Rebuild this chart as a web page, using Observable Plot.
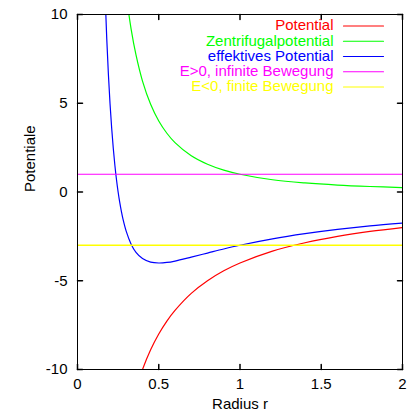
<!DOCTYPE html>
<html>
<head>
<meta charset="utf-8">
<script src="https://cdn.jsdelivr.net/npm/d3@7"></script>
<script src="https://cdn.jsdelivr.net/npm/@observablehq/plot@0.6"></script>
<style>
  html, body { margin: 0; padding: 0; background: white; }
</style>
</head>
<body>
<div id="chart"></div>
<script>
// Radius r (sampled along the curves)
const radius = [0.15, 0.16, 0.17, 0.18, 0.19, 0.2, 0.21, 0.22, 0.23, 0.24, 0.25, 0.26, 0.27, 0.28, 0.3, 0.33, 0.36, 0.4, 0.45, 0.5, 0.55, 0.6, 0.7, 0.8, 0.9, 1.0, 1.2, 1.4, 1.6, 1.8, 2.0];
// Potential (red)
const potential = [-26.67, -25.0, -23.53, -22.22, -21.05, -20.0, -19.05, -18.18, -17.39, -16.67, -16.0, -15.38, -14.81, -14.29, -13.33, -12.12, -11.11, -10.0, -8.89, -8.0, -7.27, -6.67, -5.71, -5.0, -4.44, -4.0, -3.33, -2.86, -2.5, -2.22, -2.0];
// Zentrifugalpotential (green)
const zentrifugal = [44.44, 39.06, 34.6, 30.86, 27.7, 25.0, 22.68, 20.66, 18.9, 17.36, 16.0, 14.79, 13.72, 12.76, 11.11, 9.18, 7.72, 6.25, 4.94, 4.0, 3.31, 2.78, 2.04, 1.56, 1.23, 1.0, 0.69, 0.51, 0.39, 0.31, 0.25];
// effektives Potential (blue)
const effektiv = [17.78, 14.06, 11.07, 8.64, 6.65, 5.0, 3.63, 2.48, 1.51, 0.69, 0.0, -0.59, -1.09, -1.53, -2.22, -2.94, -3.4, -3.75, -3.95, -4.0, -3.97, -3.89, -3.67, -3.44, -3.21, -3.0, -2.64, -2.35, -2.11, -1.91, -1.75];
// Energy levels
const energyPositive = [1];
const energyNegative = [-3];

// Legend
const legendLabels = ["Potential", "Zentrifugalpotential", "effektives Potential", "E>0, infinite Bewegung", "E<0, finite Bewegung"];
const legendColors = ["red", "#00ff00", "#0000ff", "#ff00ff", "#ffff00"];

// Ticks
const xTicks = [0, 0.5, 1, 1.5, 2];
const yTicks = [-10, -5, 0, 5, 10];

const table = radius.map((r, i) => ({r, potential: potential[i], zentrifugal: zentrifugal[i], effektiv: effektiv[i]}));

const lineShape = {draw(context, l) { context.moveTo(0, 0); context.lineTo(0, -l); }};
const fmt = d => String(d);
const FS = 15;
const LW = 1.2;

const legendMarks = legendLabels.flatMap((label, i) => [
  Plot.text([label], {frameAnchor: "top-right", dx: -69, dy: 11 + i * 15.25, text: d => d, fill: legendColors[i], textAnchor: "end", lineAnchor: "middle", fontSize: FS}),
  Plot.vector([label], {frameAnchor: "top-right", dx: -59, dy: 11.5 + i * 15.25, length: 40, rotate: 90, anchor: "start", shape: lineShape, stroke: legendColors[i], strokeWidth: LW})
]);

const chart = Plot.plot({
  width: 417,
  height: 414,
  marginLeft: 77,
  marginRight: 15,
  marginTop: 14,
  marginBottom: 45,
  x: {domain: [0, 2]},
  y: {domain: [-10, 10]},
  style: {fontFamily: "'Liberation Sans', Arial, sans-serif", fontSize: "15px", background: "white", color: "black"},
  marks: [
    // tick labels
    Plot.axisX({anchor: "bottom", ticks: xTicks, tickSize: 0, tickPadding: 9, tickFormat: fmt, label: null, fontSize: FS}),
    Plot.axisY({anchor: "left", ticks: yTicks, tickSize: 0, tickPadding: 10, tickFormat: fmt, label: null, fontSize: FS}),
    // curves
    Plot.line(table, {x: "r", y: "potential", stroke: legendColors[0], strokeWidth: LW, curve: "catmull-rom", clip: true}),
    Plot.line(table, {x: "r", y: "zentrifugal", stroke: legendColors[1], strokeWidth: LW, curve: "catmull-rom", clip: true}),
    Plot.line(table, {x: "r", y: "effektiv", stroke: legendColors[2], strokeWidth: LW, curve: "catmull-rom", clip: true}),
    Plot.ruleY(energyPositive, {stroke: legendColors[3], strokeWidth: LW}),
    Plot.ruleY(energyNegative, {stroke: legendColors[4], strokeWidth: 1.5}),
    // inward ticks on all four sides
    Plot.vector(xTicks, {x: d => d, frameAnchor: "bottom", length: 5, rotate: 0, anchor: "start", shape: lineShape, stroke: "black"}),
    Plot.vector(xTicks, {x: d => d, frameAnchor: "top", length: 5, rotate: 180, anchor: "start", shape: lineShape, stroke: "black"}),
    Plot.vector(yTicks, {y: d => d, frameAnchor: "left", length: 5, rotate: 90, anchor: "start", shape: lineShape, stroke: "black"}),
    Plot.vector(yTicks, {y: d => d, frameAnchor: "right", length: 5, rotate: -90, anchor: "start", shape: lineShape, stroke: "black"}),
    // frame
    Plot.frame({stroke: "black", strokeWidth: 1}),
    // axis titles
    Plot.text(["Radius r"], {frameAnchor: "bottom", dy: 35, lineAnchor: "middle", text: d => d, fontSize: FS}),
    Plot.text(["Potentiale"], {frameAnchor: "left", dx: -47, rotate: -90, lineAnchor: "middle", text: d => d, fontSize: FS}),
    // legend
    ...legendMarks
  ]
});
document.getElementById("chart").appendChild(chart);
</script>
</body>
</html>
